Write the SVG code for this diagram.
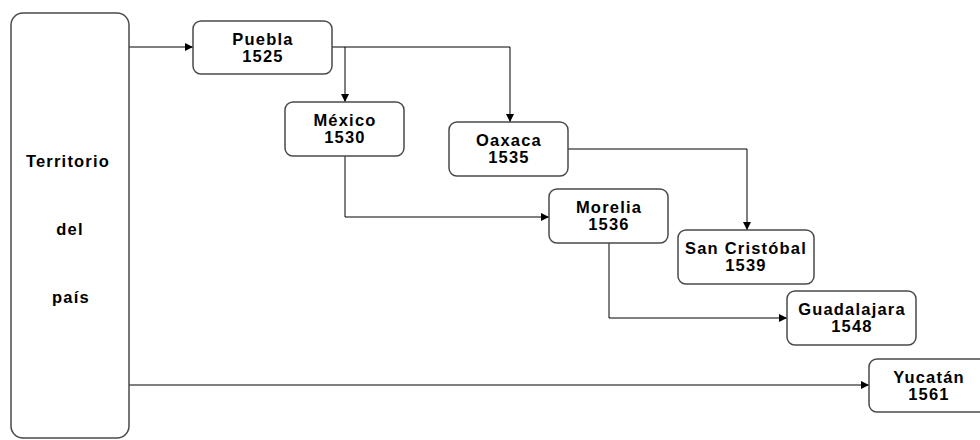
<svg xmlns="http://www.w3.org/2000/svg" width="980" height="440" viewBox="0 0 980 440">
<style>
.box{fill:#fff;stroke:#4a4a4a;stroke-width:1.5}
.t{font-family:"Liberation Sans",Arial,sans-serif;font-weight:bold;font-size:16.5px;letter-spacing:1.2px;text-anchor:middle;fill:#000}
.c{fill:none;stroke:#000;stroke-width:1}
</style>
<defs>
<marker id="ah" viewBox="0 0 10 10" refX="10" refY="5" markerWidth="10" markerHeight="8" markerUnits="userSpaceOnUse" orient="auto">
<path d="M0,0 L10,5 L0,10 z" fill="#000"/>
</marker>
</defs>
<rect width="980" height="440" fill="#fff"/>
<g id="connectors">
<path class="c" d="M129,47 H193" marker-end="url(#ah)"/>
<path class="c" d="M332,47 H510 V122" marker-end="url(#ah)"/>
<path class="c" d="M345,47 V102" marker-end="url(#ah)"/>
<path class="c" d="M345,156 V217 H549" marker-end="url(#ah)"/>
<path class="c" d="M568,149 H747 V230" marker-end="url(#ah)"/>
<path class="c" d="M609,243 V318 H787" marker-end="url(#ah)"/>
<path class="c" d="M129,385 H869" marker-end="url(#ah)"/>
</g>
<g id="territorio">
<rect class="box" x="11" y="13" width="118" height="425" rx="12"/>
<text class="t" x="68" y="167">Territorio</text>
<text class="t" x="70" y="235">del</text>
<text class="t" x="71" y="303">país</text>
</g>
<g id="puebla">
<rect class="box" x="193" y="21" width="139" height="53" rx="8"/>
<text class="t" x="263" y="45">Puebla</text>
<text class="t" x="263" y="62">1525</text>
</g>
<g id="mexico">
<rect class="box" x="285" y="102" width="119" height="54" rx="8"/>
<text class="t" x="345" y="126">México</text>
<text class="t" x="345" y="143">1530</text>
</g>
<g id="oaxaca">
<rect class="box" x="449" y="122" width="119" height="54" rx="8"/>
<text class="t" x="509" y="146">Oaxaca</text>
<text class="t" x="509" y="163">1535</text>
</g>
<g id="morelia">
<rect class="box" x="549" y="189" width="119" height="54" rx="8"/>
<text class="t" x="609" y="213">Morelia</text>
<text class="t" x="609" y="230">1536</text>
</g>
<g id="sancristobal">
<rect class="box" x="678" y="230" width="136" height="54" rx="8"/>
<text class="t" x="746" y="254">San Cristóbal</text>
<text class="t" x="746" y="271">1539</text>
</g>
<g id="guadalajara">
<rect class="box" x="787" y="291" width="129" height="54" rx="8"/>
<text class="t" x="852" y="315">Guadalajara</text>
<text class="t" x="852" y="332">1548</text>
</g>
<g id="yucatan">
<rect class="box" x="869" y="359" width="120" height="53" rx="8"/>
<text class="t" x="929" y="383">Yucatán</text>
<text class="t" x="929" y="400">1561</text>
</g>
</svg>
